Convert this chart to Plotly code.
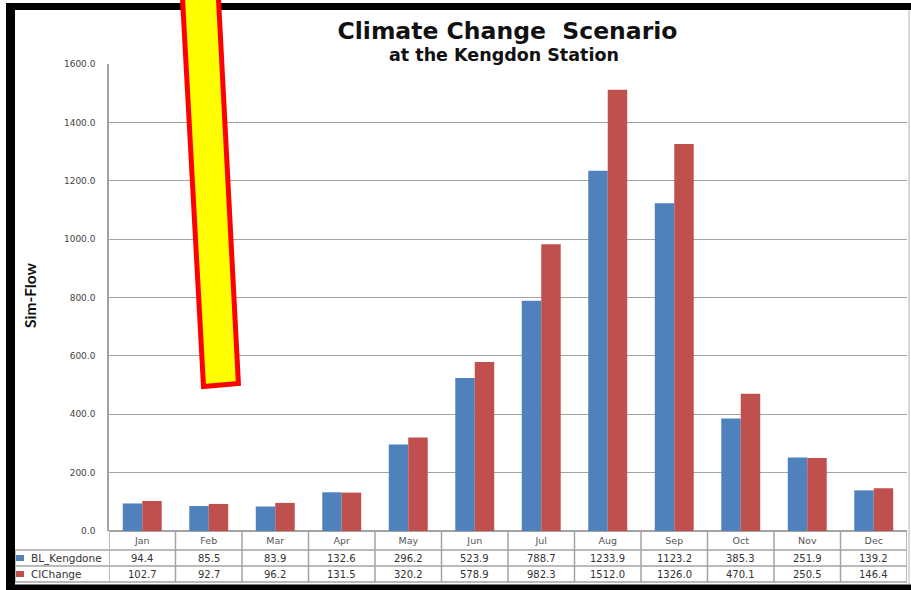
import plotly.graph_objects as go

months = ["Jan", "Feb", "Mar", "Apr", "May", "Jun", "Jul", "Aug", "Sep", "Oct", "Nov", "Dec"]
bl_kengdone = [94.4, 85.5, 83.9, 132.6, 296.2, 523.9, 788.7, 1233.9, 1123.2, 385.3, 251.9, 139.2]
cl_change = [102.7, 92.7, 96.2, 131.5, 320.2, 578.9, 982.3, 1512.0, 1326.0, 470.1, 250.5, 146.4]
series_names = ["BL_Kengdone", "ClChange"]
y_ticks = [0, 200, 400, 600, 800, 1000, 1200, 1400, 1600]

BLUE = "#4F81BD"
RED = "#C0504D"
GRID = "#a3a3a3"

W, H = 911, 590
ML, MR, MT, MB = 109, 4, 64, 59
PW = W - ML - MR
PH = H - MT - MB


def px(x):
    return (x - ML) / PW


def py(y):
    return (H - MB - y) / PH


fig = go.Figure()
fig.add_trace(go.Bar(x=months, y=bl_kengdone, name=series_names[0], marker=dict(color=BLUE, line=dict(width=0))))
fig.add_trace(go.Bar(x=months, y=cl_change, name=series_names[1], marker=dict(color=RED, line=dict(width=0))))

shapes = []
annotations = []

# data table grid
for yy in (550, 566, 582):
    shapes.append(dict(type="line", xref="paper", yref="paper", x0=px(15), x1=1, y0=py(yy), y1=py(yy),
                       line=dict(color=GRID, width=1.5)))
shapes.append(dict(type="line", xref="paper", yref="paper", x0=px(15), x1=px(15), y0=py(550), y1=py(582),
                   line=dict(color=GRID, width=1.5)))
for i in range(len(months) + 1):
    shapes.append(dict(type="line", xref="x", yref="paper", x0=i - 0.5, x1=i - 0.5, y0=0, y1=py(582),
                       line=dict(color=GRID, width=1.5)))

# table legend keys and labels
for k, (col, nm, yc) in enumerate([(BLUE, series_names[0], 558), (RED, series_names[1], 574)]):
    shapes.append(dict(type="rect", xref="paper", yref="paper", x0=px(16), x1=px(24), y0=py(yc - 3), y1=py(yc + 3),
                       fillcolor=col, line=dict(width=0)))
    annotations.append(dict(xref="paper", yref="paper", x=px(29), y=py(yc), text=nm, showarrow=False,
                            xanchor="left", yanchor="middle",
                            font=dict(family="DejaVu Sans", size=10.5, color="#333333")))

# table values
for vals, yc in ((bl_kengdone, 558), (cl_change, 574)):
    for m, v in zip(months, vals):
        annotations.append(dict(xref="x", yref="paper", x=m, y=py(yc), text=f"{v:.1f}", showarrow=False,
                                xanchor="center", yanchor="middle",
                                font=dict(family="DejaVu Sans", size=10, color="#333333")))

# subtitle & axis title
annotations.append(dict(xref="paper", yref="paper", x=px(504), y=py(55), text="<b>at the Kengdon Station</b>",
                        showarrow=False, xanchor="center", yanchor="middle",
                        font=dict(family="DejaVu Sans", size=17.5, color="#111111")))
annotations.append(dict(xref="paper", yref="paper", x=px(30), y=py(296), text="<b>Sim-Flow</b>", textangle=-90,
                        showarrow=False, xanchor="center", yanchor="middle",
                        font=dict(family="Lato", size=15.5, color="#111111")))

# frame
shapes.append(dict(type="line", xref="paper", yref="paper", x0=px(909), x1=px(909), y0=py(10), y1=py(584),
                   line=dict(color="#cccccc", width=1.5), layer="above"))
shapes.append(dict(type="rect", xref="paper", yref="paper", x0=px(6), x1=px(915), y0=py(3), y1=py(10),
                   fillcolor="black", line=dict(width=0), layer="above"))
shapes.append(dict(type="rect", xref="paper", yref="paper", x0=px(6), x1=px(15), y0=py(3), y1=py(595),
                   fillcolor="black", line=dict(width=0), layer="above"))
shapes.append(dict(type="rect", xref="paper", yref="paper", x0=px(6), x1=px(915), y0=py(584.5), y1=py(595),
                   fillcolor="black", line=dict(width=0), layer="above"))

# yellow slanted marker
pts = [(181.5, -20), (203.5, 386.5), (238.4, 383.5), (217.5, -20)]
path = "M " + " L ".join(f"{px(a):.5f},{py(b):.5f}" for a, b in pts) + " Z"
shapes.append(dict(type="path", xref="paper", yref="paper", path=path, fillcolor="#FFFF00",
                   line=dict(color="#FF0000", width=5), layer="above"))

fig.update_layout(
    width=W, height=H,
    margin=dict(l=ML, r=MR, t=MT, b=MB),
    paper_bgcolor="white", plot_bgcolor="white",
    barmode="group", bargap=0.414, bargroupgap=0,
    showlegend=False,
    title=dict(text="<b>Climate Change  Scenario</b>", x=507.5 / W, y=1 - 30.5 / H, xanchor="center",
               yanchor="middle", xref="container", yref="container",
               font=dict(family="DejaVu Sans", size=23.5, color="#111111")),
    shapes=shapes,
    annotations=annotations,
    font=dict(family="DejaVu Sans"),
)
fig.update_xaxes(type="category", showgrid=False, showline=False, ticks="", zeroline=False,
                 tickfont=dict(family="DejaVu Sans", size=9.5, color="#555555"), ticklabelstandoff=2,
                 range=[-0.5, 11.5])
fig.update_yaxes(range=[0, 1600], tickvals=y_ticks, tickformat=".1f", showgrid=True, gridcolor=GRID,
                 gridwidth=1, showline=True, linecolor=GRID, linewidth=1.5, zeroline=True,
                 zerolinecolor=GRID, zerolinewidth=1.5, ticks="",
                 tickfont=dict(family="DejaVu Sans", size=9, color="#444444"), ticklabelstandoff=10)

fig.write_html("out.html")
